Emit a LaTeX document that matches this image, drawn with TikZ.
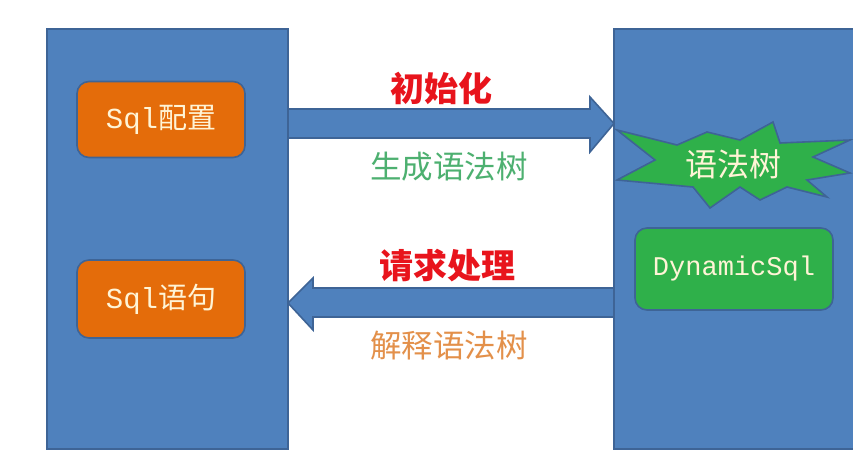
\documentclass[tikz,border=0pt]{standalone}
\usepackage{fontspec}
\newfontfamily\cjk{Noto Sans CJK SC}
\newfontfamily\lat{Liberation Mono}
\definecolor{panelblue}{HTML}{4F81BD}
\definecolor{edgeblue}{HTML}{3E6496}
\definecolor{boxorange}{HTML}{E46C0A}
\definecolor{boxgreen}{HTML}{2FB04A}
\definecolor{cream}{HTML}{FFF4D6}
\definecolor{lblred}{HTML}{E8141C}
\definecolor{lblgreen}{HTML}{4DB070}
\definecolor{lblorange}{HTML}{E3904A}
\begin{document}
\begin{tikzpicture}[x=1pt,y=-1pt,
  panel/.style={draw=edgeblue,line width=1.8pt,fill=panelblue},
  rbox/.style={draw=edgeblue,line width=1.6pt,rounded corners=12pt},
  txt/.style={text=cream,font=\fontsize{29}{32}\selectfont},
  lbl/.style={font=\cjk\fontsize{31.5}{34}\selectfont},
  boldlbl/.style={text=lblred,font=\cjk\bfseries\fontsize{34}{36}\selectfont},
  blockarrow/.style={draw=edgeblue,line width=1.6pt,fill=panelblue,line join=miter}]
\useasboundingbox (0,0) rectangle (853,475);
\fill[white] (0,0) rectangle (853,475);
% panels
\draw[panel] (47,29) rectangle (288,449);
\coordinate (lp) at (288,0);
\draw[panel] (614,29) rectangle (856,449);
\coordinate (rp) at (614,0);
% left boxes
\node[rbox,fill=boxorange,minimum width=168pt,minimum height=76pt] (cfg) at (161,119.5) {};
\node[txt] at (cfg) {\lat S\lat q\lat l\cjk 配置};
\node[rbox,fill=boxorange,minimum width=168pt,minimum height=78pt] (stmt) at (161,299) {};
\node[txt] at (stmt) {\lat S\lat q\lat l\cjk 语句};
% top arrow (right)
\draw[blockarrow] (lp |- 0,109) -- (590,109) -- (590,97) -- (rp |- 0,123.5) -- (590,152) -- (590,138) -- (lp |- 0,138) -- cycle;
% bottom arrow (left)
\draw[blockarrow] (rp |- 0,288) -- (313,288) -- (313,278) -- (lp |- 0,303) -- (313,330) -- (313,317) -- (rp |- 0,317) -- cycle;
% labels
\node[boldlbl] (init) at (441,88) {初始化};
\node[lbl,text=lblgreen] (gen) at (449,167) {生成语法树};
\node[boldlbl] (req) at (447,266) {请求处理};
\node[lbl,text=lblorange] (interp) at (449,346) {解释语法树};
% starburst
\draw[draw=edgeblue,line width=1.6pt,fill=boxgreen,line join=miter]
  (617,130) -- (677,145) -- (707,132) -- (740,140) -- (773,122) -- (780,143)
  -- (850,140) -- (813,157) -- (850,173) -- (807,180) -- (827,197) -- (787,187)
  -- (760,200) -- (740,187) -- (710,208) -- (693,187) -- (617,180) -- (655,160) -- cycle;
\node[txt,font=\cjk\fontsize{32}{34}\selectfont] (tree) at (733,164) {语法树};
% DynamicSql
\node[rbox,fill=boxgreen,minimum width=198pt,minimum height=82pt] (dyn) at (734,269) {};
\node[txt,font=\lat\fontsize{27}{29}\selectfont] at (dyn) {DynamicSql};
\end{tikzpicture}
\end{document}
